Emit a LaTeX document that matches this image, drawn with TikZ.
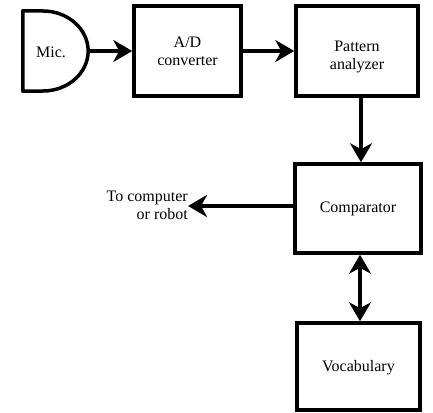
\documentclass[tikz,border=0pt]{standalone}
\usepackage{fontspec}
\setmainfont{Liberation Serif}
\usetikzlibrary{arrows.meta}
\begin{document}
\begin{tikzpicture}[x=1pt,y=-1pt,
  blk/.style={draw,line width=3.5pt,minimum width=#1,inner sep=0pt,align=center,font=\fontsize{16}{18}\selectfont},
  lbl/.style={inner sep=0pt,align=center,font=\fontsize{16}{18}\selectfont},
  conn/.style={line width=3.5pt,-{Stealth[length=19pt,width=22pt,inset=6pt]}},
  dconn/.style={line width=3.5pt,{Stealth[length=19pt,width=22pt,inset=6pt]}-{Stealth[length=19pt,width=22pt,inset=6pt]}}]
\useasboundingbox (0,0) rectangle (433,412);
% Mic
\node[lbl,minimum width=65pt,minimum height=80pt] (mic) at (55.5,51) {};
\node[lbl] (mictext) at (51,52) {Mic.};
\draw[line width=3.5pt,line join=round] (mic.north west) -- (43,11) .. controls (67.9,11) and (88,28.9) .. (mic.east) .. controls (88,73.1) and (67.9,91) .. (43,91) -- (mic.south west) -- cycle;
% boxes
\node[blk=107pt,minimum height=90pt] (ad) at (187.5,51) {};
\node[lbl] (adtext) at (187.5,51) {A/D\\converter};
\node[blk=122pt,minimum height=90pt] (pa) at (357,51) {};
\node[lbl] (patext) at (357,57) {Pattern\\analyzer};
\node[blk=126pt,minimum height=89pt] (comp) at (358,208.5) {};
\node[lbl] (comptext) at (358,209) {Comparator};
\node[blk=123pt,minimum height=87pt] (voc) at (358.5,366.5) {};
\node[lbl] (voctext) at (358.5,368) {Vocabulary};
\node[inner sep=0pt,align=right,font=\fontsize{16}{18}\selectfont,anchor=east] (out) at (188,205) {To computer\\or robot};
% connectors
\draw[conn] (mic.east) -- (ad.west);
\draw[conn] (ad.east) -- (pa.west);
\draw[conn] (pa.south -| 361,0) -- (comp.north -| 361,0);
\draw[conn] (comp.west |- 0,206) -- (out.east |- 0,206);
\draw[dconn] (comp.south -| 360,0) -- (voc.north -| 360,0);
\end{tikzpicture}
\end{document}
